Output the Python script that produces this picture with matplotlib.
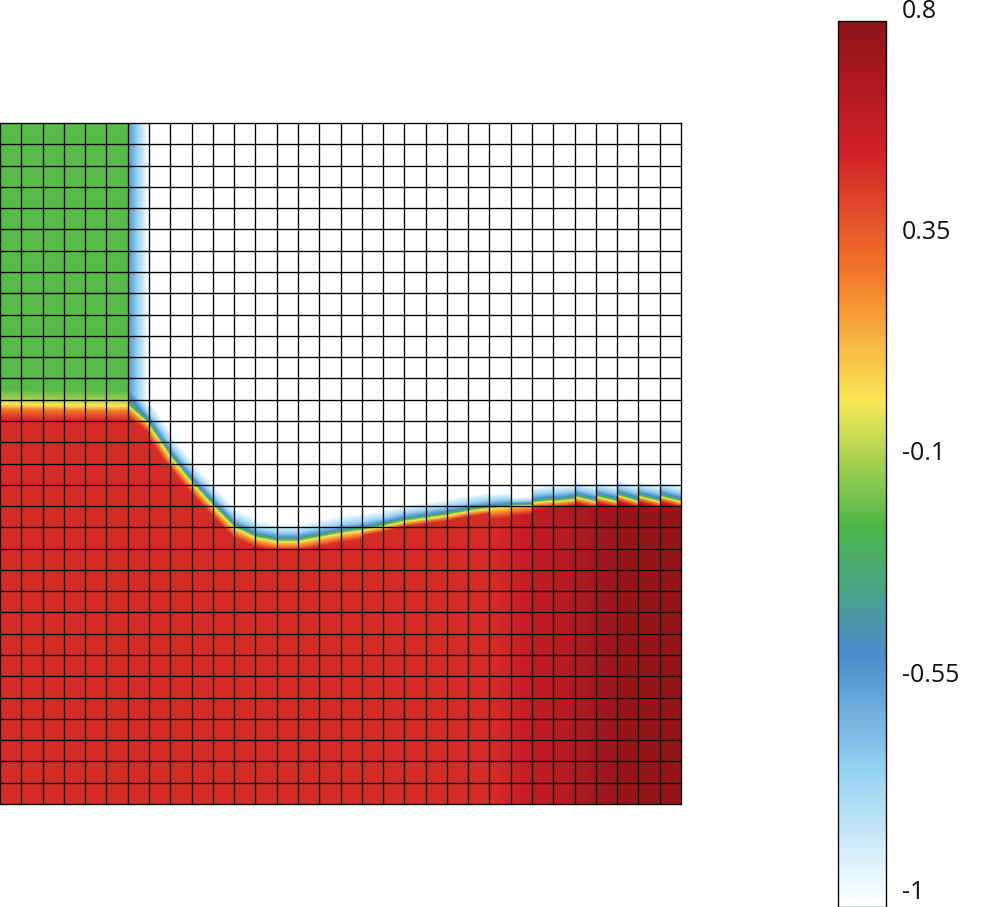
import numpy as np
import matplotlib
matplotlib.use("Agg")
import matplotlib.pyplot as plt
from matplotlib.colors import LinearSegmentedColormap

plt.rcParams['font.family'] = ['Open Sans', 'DejaVu Sans']

W, H = 991, 907
VMIN, VMAX = -1.0, 0.8
N_CELLS = 32

# colour scale (bottom to top, evenly spaced)
scale_colors = ['#ffffff', '#9ad6f4', '#4a8ccb', '#4cb748',
                '#f9e856', '#f47a2a', '#d01f28', '#8e1518']
bar_ticks = [0.8, 0.35, -0.1, -0.55, -1]
bar_labels = ['0.8', '0.35', '-0.1', '-0.55', '-1']

# interface height (cell units from the bottom) at left and right side of every column
iface_left = [18.56, 18.54, 18.52, 18.50, 18.49, 18.48, 18.60, 17.76, 16.30, 15.08,
              14.00, 12.97, 12.50, 12.31, 12.31, 12.50, 12.69, 12.83, 13.02, 13.26,
              13.40, 13.54, 13.73, 13.87, 14.00, 14.10, 14.15, 14.37, 14.37, 14.42,
              14.37, 14.37]
iface_right = [18.54, 18.52, 18.50, 18.49, 18.48, 18.47, 17.85, 16.30, 15.08, 14.00,
               12.97, 12.50, 12.31, 12.31, 12.50, 12.69, 12.83, 13.02, 13.26, 13.40,
               13.54, 13.73, 13.87, 13.95, 14.02, 14.20, 14.25, 14.12, 14.12, 14.12,
               14.12, 14.12]

# value below the interface at each column edge (33 edges)
lower_edges = [0.50] * 23 + [0.50, 0.53, 0.60, 0.62, 0.66, 0.71, 0.76, 0.77, 0.77, 0.77]

# value above the interface at left and right side of every column
upper_left = [-0.21] * 6 + [-0.50] + [-1.0] * 25
upper_right = [-0.21] * 6 + [-1.0] + [-1.0] * 25

# transition width factor of every column, on the side above and the side below the interface
band_above = [1.3] * 6 + [1.0] * 5 + [1.2] * 6 + [1.1] * 6 + [1.0, 0.6] + [1.15] * 7
band_below = [1.3] * 6 + [1.0] * 5 + [1.2] * 6 + [0.7] * 6 + [1.5, 1.4] + [0.9] * 7

# fraction of the way from lower to upper value versus distance (pixels) from the interface
dist_px = [-7.0, -3.0, 0.0, 2.0, 4.0, 8.0, 15.0]
frac_up = [0.0, 0.17, 0.30, 0.50, 0.67, 0.83, 1.0]

PX_PER_CELL = 681 / 32

nx = ny = 681
xs = (np.arange(nx) + 0.5) * N_CELLS / nx
ys = (np.arange(ny) + 0.5) * N_CELLS / ny
X, Y = np.meshgrid(xs, ys)
col = np.clip(X.astype(int), 0, N_CELLS - 1)
fx = X - col

il, ir = np.array(iface_left), np.array(iface_right)
h = il[col] + (ir[col] - il[col]) * fx
slope = ir[col] - il[col]
cosine = 1 / np.sqrt(1 + slope ** 2)
d = (Y - h) * PX_PER_CELL * cosine
d = np.where(d > 0, d / np.array(band_above)[col], d / np.array(band_below)[col])
s = np.interp(d, dist_px, frac_up)
low_e = np.array(lower_edges)
low = low_e[col] + (low_e[col + 1] - low_e[col]) * fx
ul, ur = np.array(upper_left), np.array(upper_right)
up = ul[col] + (ur[col] - ul[col]) * fx
field = low + (up - low) * s

cmap = LinearSegmentedColormap.from_list('field', scale_colors, N=256)

fig = plt.figure(figsize=(W / 100, H / 100), dpi=100)
fig.patch.set_facecolor('white')

ax = fig.add_axes([0, (H - 804) / H, 681 / W, 681 / H])
im = ax.imshow(field, origin='lower', extent=(0, N_CELLS, 0, N_CELLS), aspect='auto',
               cmap=cmap, vmin=VMIN, vmax=VMAX, interpolation='nearest')
ax.set_xticks(np.arange(N_CELLS + 1))
ax.set_yticks(np.arange(N_CELLS + 1))
ax.tick_params(length=0, labelbottom=False, labelleft=False)
ax.grid(True, color='black', linewidth=0.95)
ax.set_axisbelow(False)
for sp in ax.spines.values():
    sp.set_visible(False)
for ln in ax.get_xgridlines() + ax.get_ygridlines():
    ln.set_clip_on(False)

cax = fig.add_axes([838 / W, 0, 47.5 / W, (H - 21) / H])
cbar = fig.colorbar(im, cax=cax)
cbar.set_ticks([])
cbar.outline.set_linewidth(0.95)
cbar.outline.set_edgecolor('black')

for value, label in zip(bar_ticks, bar_labels):
    tick_y = cax.transData.transform((0, value))[1]
    y_px = max(tick_y + 10, 14.5)
    fig.text(902 / W, y_px / H, label, fontsize=18, color='#111111',
             ha='left', va='center')

fig.savefig('out.png', dpi=100)
